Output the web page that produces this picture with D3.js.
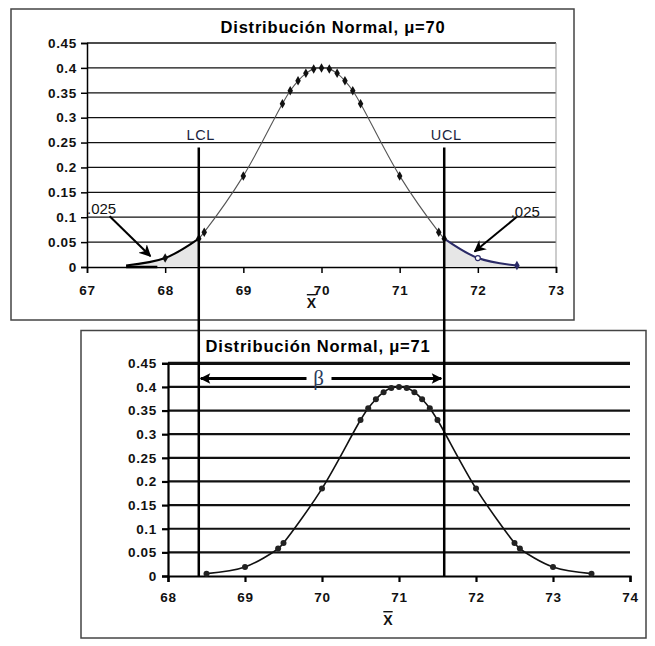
<!DOCTYPE html>
<html><head><meta charset="utf-8">
<script src="https://cdn.jsdelivr.net/npm/d3@7"></script>
<style>
body{margin:0;background:#fff;}
text{font-family:"Liberation Sans",Arial,sans-serif;}
</style></head>
<body>
<svg id="c" width="655" height="646"></svg>
<script>
// ---- data ----
const topX = [67.5, 68, 68.43, 68.5, 69, 69.5, 69.6, 69.7, 69.8, 69.9, 70, 70.1, 70.2, 70.3, 70.4, 70.5, 71, 71.5, 71.57, 72, 72.5];
const topY = [0.003, 0.018, 0.057, 0.070, 0.183, 0.328, 0.354, 0.374, 0.389, 0.398, 0.400, 0.398, 0.389, 0.374, 0.354, 0.328, 0.183, 0.070, 0.057, 0.018, 0.003];
const botX = [68.5, 69, 69.43, 69.5, 70, 70.5, 70.6, 70.7, 70.8, 70.9, 71, 71.1, 71.2, 71.3, 71.4, 71.5, 72, 72.5, 72.57, 73, 73.5];
const botY = [0.005, 0.019, 0.058, 0.070, 0.185, 0.330, 0.355, 0.374, 0.389, 0.398, 0.400, 0.398, 0.389, 0.374, 0.355, 0.330, 0.185, 0.070, 0.058, 0.019, 0.005];
const yTicks = [0, 0.05, 0.1, 0.15, 0.2, 0.25, 0.3, 0.35, 0.4, 0.45];
const topXTicks = [67, 68, 69, 70, 71, 72, 73];
const botXTicks = [68, 69, 70, 71, 72, 73, 74];
const LCL = 68.43, UCL = 71.57, limitTop = 0.24;
const topTitle = "Distribución Normal, μ=70";
const botTitle = "Distribución Normal, μ=71";
const tailLabel = ".025";

const svg = d3.select("#c");
const topData = topX.map((x,i)=>({x, y: topY[i]}));
const botData = botX.map((x,i)=>({x, y: botY[i]}));

// frames
svg.append("rect").attr("x",11).attr("y",9).attr("width",563).attr("height",311)
  .attr("fill","#fff").attr("stroke","#444").attr("stroke-width",1.5);
svg.append("rect").attr("x",81).attr("y",330.5).attr("width",565).attr("height",307.5)
  .attr("fill","#fff").attr("stroke","#444").attr("stroke-width",1.5);

// ---- scales ----
const xT = d3.scaleLinear().domain([67,73]).range([87,556]);
const yT = d3.scaleLinear().domain([0,0.45]).range([267,43]);
const xB = d3.scaleLinear().domain([68,74]).range([168,630]);
const yB = d3.scaleLinear().domain([0,0.45]).range([576,363.3]);

function grid(g, x, y, w, topW){
  g.selectAll("line.grid").data(yTicks.filter(d=>d>0)).join("line")
    .attr("x1", x.range()[0]).attr("x2", x.range()[1])
    .attr("y1", d=>y(d)).attr("y2", d=>y(d))
    .attr("stroke","#111").attr("stroke-width", d=> d===0.45 ? topW : w);
}
const gTop = svg.append("g");
grid(gTop, xT, yT, 1.3, 1.3);
gTop.append("line").attr("x1",xT(73)).attr("x2",xT(73)).attr("y1",yT(0.45)).attr("y2",yT(0))
  .attr("stroke","#999").attr("stroke-width",1);

const gBot = svg.append("g");
grid(gBot, xB, yB, 2.2, 3.2);

function axes(g, x, y, xt, labelX, xLabelY, xbarX, xbarY, lw){
  const ya = g.append("g").attr("transform",`translate(${x.range()[0]},0)`)
    .call(d3.axisLeft(y).tickValues(yTicks).tickSize(6).tickFormat(d=>String(+d.toFixed(2))));
  ya.select(".domain").attr("stroke","#000").attr("stroke-width",lw);
  ya.selectAll(".tick line").attr("stroke","#000").attr("stroke-width",lw);
  ya.selectAll(".tick text").attr("x",labelX).attr("font-size","13.5px").attr("font-weight","bold")
    .attr("font-family","Liberation Sans, Arial, sans-serif")
    .attr("fill","#111").style("letter-spacing","0.7px");
  const xa = g.append("g").attr("transform",`translate(0,${y(0)})`)
    .call(d3.axisBottom(x).tickValues(xt).tickSize(6).tickFormat(d3.format("d")));
  xa.select(".domain").attr("stroke","#000").attr("stroke-width",lw);
  xa.selectAll(".tick line").attr("stroke","#000").attr("stroke-width",lw);
  xa.selectAll(".tick text").attr("y",xLabelY).attr("dy",0).attr("font-size","13.5px").attr("font-weight","bold")
    .attr("font-family","Liberation Sans, Arial, sans-serif")
    .attr("fill","#111").style("letter-spacing","0.7px");
  g.append("text").attr("x",xbarX).attr("y",xbarY).attr("text-anchor","middle")
    .attr("font-size","14px").attr("font-weight","bold").attr("fill","#111")
    .style("text-decoration","overline").text("X");
}
axes(gTop, xT, yT, topXTicks, -10, 28, xT(70)-10, 308, 1.5);
axes(gBot, xB, yB, botXTicks, -11, 26, xB(71)-11, 625, 2.2);

// titles
svg.append("text").attr("x",333).attr("y",33).attr("text-anchor","middle")
  .attr("font-size","16.5px").attr("font-weight","bold").style("letter-spacing","0.8px").text(topTitle);
svg.append("text").attr("x",318).attr("y",352).attr("text-anchor","middle")
  .attr("font-size","16.5px").attr("font-weight","bold").style("letter-spacing","0.8px").text(botTitle);

// ---- top curve ----
const lineT = d3.line().x(d=>xT(d.x)).y(d=>yT(d.y)).curve(d3.curveCatmullRom);
const areaT = d3.area().x(d=>xT(d.x)).y0(yT(0)).y1(d=>yT(d.y)).curve(d3.curveCatmullRom);
const leftTail = topData.filter(d=>d.x<=LCL);
const rightTail = topData.filter(d=>d.x>=UCL);
const mid = topData.filter(d=>d.x>=LCL && d.x<=UCL);
svg.append("path").attr("d",areaT(leftTail)).attr("fill","#e6e6e6");
svg.append("path").attr("d",areaT(rightTail)).attr("fill","#e6e6e6");
svg.append("line").attr("x1",xT(leftTail[0].x)).attr("x2",xT(67.9)).attr("y1",yT(0)).attr("y2",yT(0))
  .attr("stroke","#000").attr("stroke-width",2.5);
svg.append("path").attr("d",lineT(mid)).attr("fill","none").attr("stroke","#555").attr("stroke-width",1.1);
svg.append("path").attr("d",lineT(leftTail)).attr("fill","none").attr("stroke","#000").attr("stroke-width",2);
svg.append("path").attr("d",lineT(rightTail)).attr("fill","none").attr("stroke","#2a2a66").attr("stroke-width",2);
const diamond = d3.symbol().type(d3.symbolDiamond).size(26);
svg.append("g").selectAll("path").data(topData.filter(d=>d.x>67.5 && d.x<71.9)).join("path")
  .attr("transform",d=>`translate(${xT(d.x)},${yT(d.y)})`).attr("d",diamond).attr("fill","#111");
svg.append("circle").attr("cx",xT(72)).attr("cy",yT(0.018)).attr("r",2.5)
  .attr("fill","#fff").attr("stroke","#2a2a66").attr("stroke-width",1.2);
svg.append("path").attr("transform",`translate(${xT(72.5)},${yT(0.003)})`).attr("d",diamond).attr("fill","#2a2a66");

// ---- bottom curve ----
const lineB = d3.line().x(d=>xB(d.x)).y(d=>yB(d.y)).curve(d3.curveCatmullRom);
svg.append("path").attr("d",lineB(botData)).attr("fill","none").attr("stroke","#111").attr("stroke-width",1.6);
svg.append("g").selectAll("circle").data(botData).join("circle")
  .attr("cx",d=>xB(d.x)).attr("cy",d=>yB(d.y)).attr("r",3).attr("fill","#222");

// ---- control limits ----
[{v:LCL,l:"LCL"},{v:UCL,l:"UCL"}].forEach(o=>{
  svg.append("line").attr("x1",xT(o.v)).attr("x2",xT(o.v)).attr("y1",yT(limitTop)).attr("y2",yB(0)+1)
    .attr("stroke","#000").attr("stroke-width",2.5);
  svg.append("text").attr("x",xT(o.v)+2).attr("y",140).attr("text-anchor","middle")
    .attr("font-size","14.5px").attr("fill","#1c2440").style("letter-spacing","0.6px").text(o.l);
});

// ---- arrows ----
const defs = svg.append("defs");
defs.append("marker").attr("id","ah").attr("viewBox","0 0 10 10").attr("refX",9).attr("refY",5)
  .attr("markerWidth",6).attr("markerHeight",6).attr("markerUnits","strokeWidth").attr("orient","auto")
  .append("path").attr("d","M0,0 L10,5 L0,10 L3,5 Z").attr("fill","#000");
defs.append("marker").attr("id","ah2").attr("viewBox","0 0 10 10").attr("refX",9).attr("refY",5)
  .attr("markerWidth",5).attr("markerHeight",3.5).attr("markerUnits","strokeWidth").attr("orient","auto")
  .append("path").attr("d","M0,0 L10,5 L0,10 L2,5 Z").attr("fill","#000");

svg.append("line").attr("x1",xT(67.29)).attr("y1",yT(0.102)).attr("x2",xT(67.81)).attr("y2",yT(0.022))
  .attr("stroke","#000").attr("stroke-width",2).attr("marker-end","url(#ah)");
svg.append("line").attr("x1",xT(72.50)).attr("y1",yT(0.101)).attr("x2",xT(71.96)).attr("y2",yT(0.031))
  .attr("stroke","#000").attr("stroke-width",2).attr("marker-end","url(#ah)");
svg.append("text").attr("x",xT(67.0)).attr("y",yT(0.106)).attr("font-size","15px").attr("fill","#111").text(tailLabel);
svg.append("text").attr("x",xT(72.42)).attr("y",yT(0.101)).attr("font-size","15px").attr("fill","#111").text(tailLabel);

// beta arrow
const betaY = yB(0.418);
const betaX = (xT(LCL)+xT(UCL))/2 - 3;
svg.append("line").attr("x1",betaX-12).attr("x2",xT(LCL)+2).attr("y1",betaY).attr("y2",betaY)
  .attr("stroke","#000").attr("stroke-width",3).attr("marker-end","url(#ah2)");
svg.append("line").attr("x1",betaX+13).attr("x2",xT(UCL)-3).attr("y1",betaY).attr("y2",betaY)
  .attr("stroke","#000").attr("stroke-width",3).attr("marker-end","url(#ah2)");
svg.append("text").attr("x",betaX).attr("y",betaY+7).attr("text-anchor","middle")
  .style("font-family","'Liberation Serif', serif")
  .attr("font-size","21px").attr("fill","#2b3a5a").text("β");
</script>
</body></html>
